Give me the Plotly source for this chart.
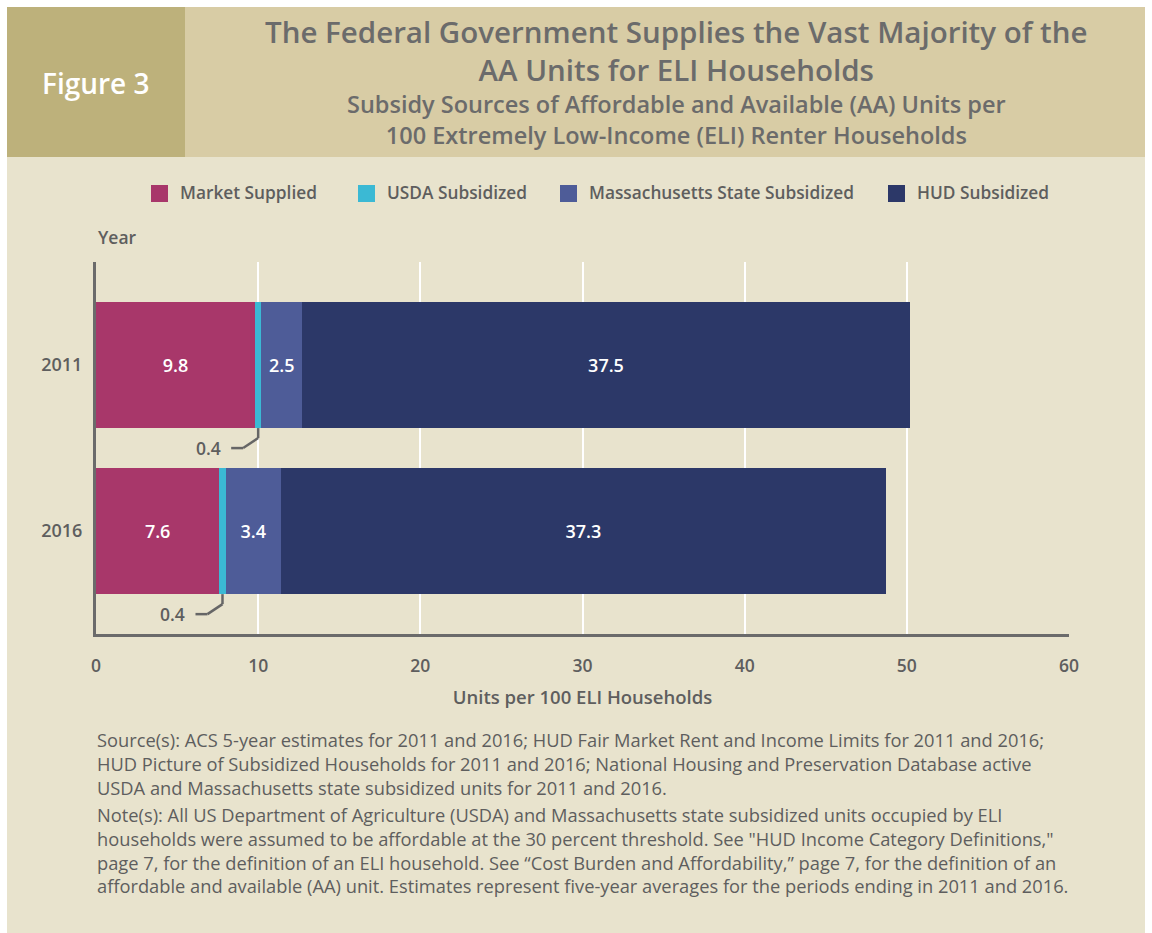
import plotly.graph_objects as go

years = ["2011", "2016"]
series_names = ["Market Supplied", "USDA Subsidized", "Massachusetts State Subsidized", "HUD Subsidized"]
market = [9.8, 7.6]
usda = [0.4, 0.4]
state = [2.5, 3.4]
hud = [37.5, 37.3]
colors = ["#a8376a", "#3bb9d4", "#4e5c98", "#2c3868"]
x_ticks = [0, 10, 20, 30, 40, 50, 60]

W, H = 1152, 933
L, R, T, B = 96, 1069, 262, 634
PW, PH = R - L, B - T

def px(xp):
    return (xp - L) / PW

def py(yp):
    return (B - yp) / PH

FONT = "Open Sans"
GRAY = "#5e5e5e"

fig = go.Figure()
values = [market, usda, state, hud]
for name, vals, col in zip(series_names, values, colors):
    show_text = name != "USDA Subsidized"
    fig.add_trace(go.Bar(
        y=years, x=vals, name=name, orientation="h",
        marker=dict(color=col, line=dict(width=0)),
        width=0.76,
        text=[f"{v:.1f}" for v in vals] if show_text else None,
        textposition="inside" if show_text else "none",
        insidetextanchor="middle",
        textfont=dict(family=FONT, size=18, color="white", weight=600),
        showlegend=False,
        hoverinfo="x+name",
    ))

shapes = []
annotations = []

# backgrounds
shapes.append(dict(type="rect", xref="paper", yref="paper", x0=px(7), x1=px(1145), y0=py(933), y1=py(157),
                   fillcolor="#e8e3cd", line=dict(width=0), layer="below"))
shapes.append(dict(type="rect", xref="paper", yref="paper", x0=px(185), x1=px(1145), y0=py(157), y1=py(7),
                   fillcolor="#d8cca5", line=dict(width=0), layer="below"))
shapes.append(dict(type="rect", xref="paper", yref="paper", x0=px(7), x1=px(185), y0=py(157), y1=py(7),
                   fillcolor="#bdb17b", line=dict(width=0), layer="below"))

# leader lines for USDA 0.4 labels
half = 0.38
dx_per_px = 60 / PW
dy_per_px = 1 / 166
for i, yr in enumerate(years):
    xc = market[i] + usda[i] / 2
    yb = i + half
    y1 = yb + 10 * dy_per_px
    y2 = yb + 20 * dy_per_px
    x2 = xc - 15 * dx_per_px
    x3 = xc - 27 * dx_per_px
    for (a, b, c, d) in [(xc, yb, xc, y1), (xc, y1, x2, y2), (x2, y2, x3, y2)]:
        shapes.append(dict(type="line", xref="x", yref="y", x0=a, y0=b, x1=c, y1=d,
                           line=dict(color="#666666", width=2.5)))
    annotations.append(dict(x=x3 - 8 * dx_per_px, y=y2, xref="x", yref="y", text=f"{usda[i]:.1f}",
                            showarrow=False, xanchor="right", yanchor="middle",
                            font=dict(family=FONT, size=17.5, color=GRAY, weight=600)))

# custom legend
legend_x = [151, 358, 560, 888]
for name, col, lx in zip(series_names, colors, legend_x):
    shapes.append(dict(type="rect", xref="paper", yref="paper", x0=px(lx), x1=px(lx + 17),
                       y0=py(202), y1=py(185), fillcolor=col, line=dict(width=0)))
    annotations.append(dict(x=px(lx + 27), y=py(193), xref="paper", yref="paper", text=name,
                            showarrow=False, xanchor="left", yanchor="middle",
                            font=dict(family=FONT, size=17.3, color=GRAY, weight=600)))

title_lines = ["The Federal Government Supplies the Vast Majority of the", "AA Units for ELI Households"]
subtitle_lines = ["Subsidy Sources of Affordable and Available (AA) Units per",
                  "100 Extremely Low-Income (ELI) Renter Households"]

annotations += [
    dict(x=px(96), y=py(83), xref="paper", yref="paper", text="Figure 3", showarrow=False,
         xanchor="center", yanchor="middle", font=dict(family=FONT, size=28, color="white", weight=600)),
    dict(x=px(676), y=py(50.5), xref="paper", yref="paper",
         text="<br>".join(title_lines), showarrow=False, align="center",
         xanchor="center", yanchor="middle", font=dict(family=FONT, size=29.5, color="#6b6b6b", weight=600)),
    dict(x=px(676), y=py(120), xref="paper", yref="paper",
         text="<br>".join(subtitle_lines), showarrow=False, align="center",
         xanchor="center", yanchor="middle", font=dict(family=FONT, size=23.5, color="#6b6b6b", weight=600)),
    dict(x=px(96), y=py(237), xref="paper", yref="paper", text="Year", showarrow=False,
         xanchor="left", yanchor="middle", font=dict(family=FONT, size=17.5, color=GRAY, weight=600)),
]

source_lines = [
    "Source(s): ACS 5-year estimates for 2011 and 2016; HUD Fair Market Rent and Income Limits for 2011 and 2016;",
    "HUD Picture of Subsidized Households for 2011 and 2016; National Housing and Preservation Database active",
    "USDA and Massachusetts state subsidized units for 2011 and 2016.",
]
note_lines = [
    "Note(s): All US Department of Agriculture (USDA) and Massachusetts state subsidized units occupied by ELI",
    "households were assumed to be affordable at the 30 percent threshold. See \"HUD Income Category Definitions,\"",
    "page 7, for the definition of an ELI household. See \u201cCost Burden and Affordability,\u201d page 7, for the definition of an",
    "affordable and available (AA) unit. Estimates represent five-year averages for the periods ending in 2011 and 2016.",
]
annotations.append(dict(x=px(95), y=py(763.5), xref="paper", yref="paper", text="<br>".join(source_lines),
                        showarrow=False, xanchor="left", yanchor="middle", align="left",
                        font=dict(family=FONT, size=18.3, color=GRAY)))
annotations.append(dict(x=px(95), y=py(850), xref="paper", yref="paper", text="<br>".join(note_lines),
                        showarrow=False, xanchor="left", yanchor="middle", align="left",
                        font=dict(family=FONT, size=18.3, color=GRAY)))

fig.update_layout(
    width=W, height=H,
    margin=dict(l=L, r=W - R, t=T, b=H - B, pad=0),
    barmode="stack",
    paper_bgcolor="white",
    plot_bgcolor="rgba(0,0,0,0)",
    shapes=shapes,
    annotations=annotations,
    showlegend=False,
    xaxis=dict(
        range=[0, 60], tickvals=x_ticks, ticktext=[str(t) for t in x_ticks],
        showgrid=True, gridcolor="white", gridwidth=2,
        showline=True, linecolor="#6b6b6b", linewidth=3,
        zeroline=False, ticks="", ticklabelstandoff=14,
        tickfont=dict(family=FONT, size=17.5, color=GRAY, weight=600),
        title=dict(text="Units per 100 ELI Households", standoff=16,
                   font=dict(family=FONT, size=18.5, color=GRAY, weight=600)),
    ),
    yaxis=dict(
        type="category", categoryorder="array", categoryarray=years,
        range=[1.62, -0.62],
        showgrid=False, showline=True, linecolor="#6b6b6b", linewidth=3,
        zeroline=False, ticks="", ticklabelstandoff=7,
        tickfont=dict(family=FONT, size=18, color=GRAY, weight=600),
    ),
)

fig.write_html("out.html", config={"displayModeBar": False},
               post_script="document.body.style.margin='0';document.body.style.overflow='hidden';")
